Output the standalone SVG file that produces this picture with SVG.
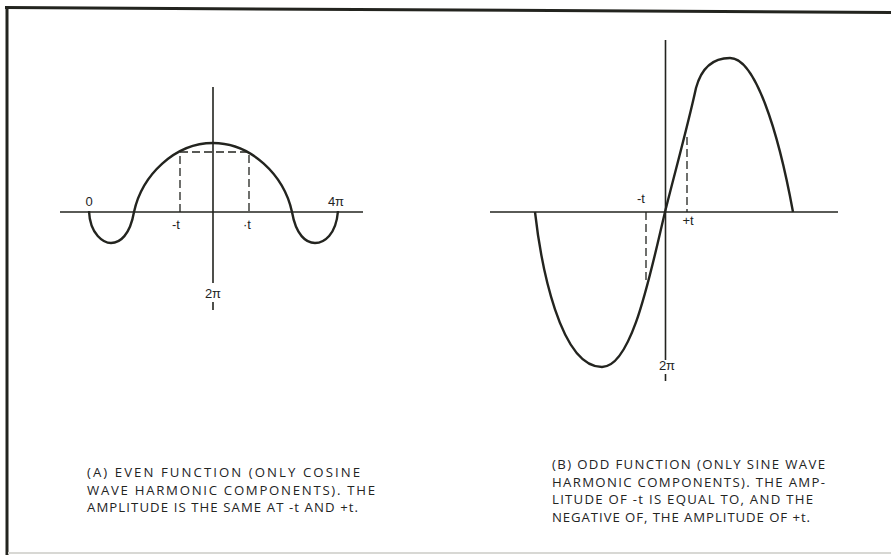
<svg xmlns="http://www.w3.org/2000/svg" width="891" height="555" viewBox="0 0 891 555">
<style>
.frame{stroke:#23241f;stroke-width:3;fill:none}
.axis{stroke:#23241f;stroke-width:1.6;fill:none}
.curve{stroke:#23241f;stroke-width:2.4;fill:none;stroke-linejoin:round}
.dash{stroke:#23241f;stroke-width:1.3;fill:none;stroke-dasharray:8 4}
.lbl{font-family:"Liberation Sans",Arial,sans-serif;font-size:13px;fill:#23241f}
.cap{font-family:"Open Sans","Liberation Sans",sans-serif;font-size:13.2px;fill:#23241f}
</style>
<rect width="891" height="555" fill="#ffffff"/>
<g id="frame">
<line class="frame" x1="5" y1="7.5" x2="891" y2="12.5"/>
<line class="frame" x1="7" y1="6" x2="7" y2="555"/>
<line x1="8" y1="553" x2="891" y2="553" stroke="#d8d8d4" stroke-width="2"/>
</g>
<g id="panel-a">
<g id="axes-a">
<line class="axis" x1="60" y1="212" x2="363" y2="212"/>
<line class="axis" x1="213" y1="87" x2="213" y2="283"/>
<line class="axis" x1="213" y1="302" x2="213" y2="310"/>
</g>
<path id="curve-a" class="curve" d="M89,211 C90,235 104,243 111,243 C120,243 130,235 134,212 C142,175 175,143 213,143 C251,143 284,175 292,212 C296,235 306,243 315,243 C324,243 336,235 338,211"/>
<g id="dashes-a">
<path class="dash" d="M180,212 V152 H249 V212"/>
</g>
<text class="lbl" x="89" y="206" text-anchor="middle">0</text>
<text class="lbl" x="336" y="206" text-anchor="middle">4π</text>
<text class="lbl" x="176" y="229" text-anchor="middle">-t</text>
<text class="lbl" x="247" y="229" text-anchor="middle">·t</text>
<text class="lbl" x="213" y="298" text-anchor="middle">2π</text>
<g id="caption-a">
<text class="cap" x="87" y="477" textLength="273">(A) EVEN FUNCTION (ONLY COSINE</text>
<text class="cap" x="87" y="495" textLength="288">WAVE HARMONIC COMPONENTS). THE</text>
<text class="cap" x="87" y="512" textLength="271">AMPLITUDE  IS THE SAME AT -t AND +t.</text>
</g>
</g>
<g id="panel-b">
<g id="axes-b">
<line class="axis" x1="490" y1="212" x2="838" y2="212"/>
<line class="axis" x1="665.5" y1="40" x2="665.5" y2="360"/>
<line class="axis" x1="665.5" y1="374" x2="665.5" y2="381"/>
</g>
<path id="curve-b" class="curve" d="M535,212 C541,265 560,367 602,367 C632,367 650,275 665,212 C675,172 688,125 696,88 C702,66 714,58 730,58 C755,58 778,130 793,212"/>
<g id="dashes-b">
<line class="dash" x1="687" y1="137" x2="687" y2="212"/>
<line class="dash" x1="646" y1="212" x2="646" y2="280"/>
</g>
<text class="lbl" x="641" y="203" text-anchor="middle">-t</text>
<text class="lbl" x="688" y="225" text-anchor="middle">+t</text>
<text class="lbl" x="667" y="370" text-anchor="middle">2π</text>
<g id="caption-b">
<text class="cap" x="552" y="469" textLength="273">(B) ODD FUNCTION (ONLY SINE WAVE</text>
<text class="cap" x="552" y="487" textLength="273">HARMONIC COMPONENTS). THE AMP-</text>
<text class="cap" x="552" y="504" textLength="261">LITUDE OF -t IS EQUAL TO, AND THE</text>
<text class="cap" x="552" y="522" textLength="258">NEGATIVE OF, THE AMPLITUDE OF +t.</text>
</g>
</g>
</svg>
